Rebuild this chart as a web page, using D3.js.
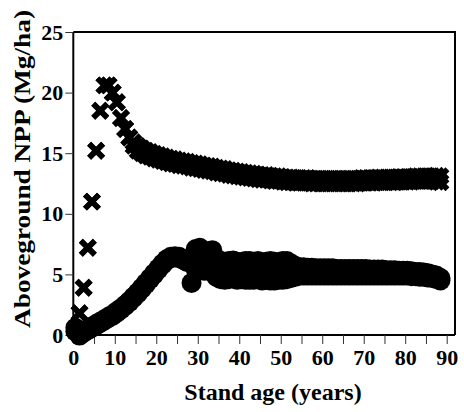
<!DOCTYPE html>
<html>
<head>
<meta charset="utf-8">
<script src="https://cdn.jsdelivr.net/npm/d3@7"></script>
<style>
    body { margin:0; background:#fff; }
    svg text { font-family:'Liberation Serif','Times New Roman',serif; font-weight:bold; fill:#000; }
    .axis path { stroke:#000; stroke-width:2; }
    .axis line { stroke:#333; stroke-width:1; }
</style>
</head>
<body>
<script>
(function() {
    'use strict';

    // stand age of each point (years)
    var ages = [0.5,1.5,2.5,3.5,4.5,5.5,6.5,7.5,8.5,9.5,
        10.5,11.5,12.5,13.5,14.5,15.5,16.5,17.5,18.5,19.5,
        20.5,21.5,22.5,23.5,24.5,25.5,26.5,27.5,28.5,29.5,
        30.5,31.5,32.5,33.5,34.5,35.5,36.5,37.5,38.5,39.5,
        40.5,41.5,42.5,43.5,44.5,45.5,46.5,47.5,48.5,49.5,
        50.5,51.5,52.5,53.5,54.5,55.5,56.5,57.5,58.5,59.5,
        60.5,61.5,62.5,63.5,64.5,65.5,66.5,67.5,68.5,69.5,
        70.5,71.5,72.5,73.5,74.5,75.5,76.5,77.5,78.5,79.5,
        80.5,81.5,82.5,83.5,84.5,85.5,86.5,87.5,88.5];

    // crosses, upper and lower run (Mg/ha)
    var crossHi = [0.5,1.8,3.9,7.2,11.0,15.2,18.5,20.6,20.6,20.0,
        19.2,17.9,17.0,16.3,15.9,15.6,15.4,15.2,15.1,14.95,
        14.85,14.75,14.65,14.55,14.5,14.4,14.35,14.3,14.2,14.15,
        14.1,14.0,13.95,13.9,13.8,13.75,13.7,13.6,13.55,13.5,
        13.45,13.4,13.35,13.3,13.25,13.2,13.2,13.15,13.1,13.1,
        13.05,13.0,13.0,12.95,12.95,12.95,12.95,12.9,12.9,12.9,
        12.9,12.9,12.9,12.9,12.9,12.9,12.9,12.9,12.9,12.95,
        12.95,12.95,12.95,13.0,13.0,13.0,13.0,13.0,13.05,13.05,
        13.05,13.05,13.1,13.1,13.1,13.1,13.1,13.15,13.1];

    var crossLo = [0.5,1.8,3.9,7.2,11.0,15.2,18.5,20.6,20.6,20.0,
        19.2,17.9,17.0,16.3,15.6,15.2,15.0,14.8,14.7,14.55,
        14.45,14.35,14.25,14.15,14.1,14.0,13.95,13.9,13.8,13.75,
        13.7,13.6,13.55,13.5,13.4,13.35,13.3,13.2,13.15,13.1,
        13.05,13.0,12.95,12.9,12.85,12.8,12.8,12.75,12.7,12.7,
        12.65,12.6,12.6,12.55,12.55,12.55,12.55,12.5,12.5,12.5,
        12.5,12.5,12.5,12.5,12.5,12.5,12.5,12.5,12.5,12.55,
        12.55,12.55,12.55,12.6,12.6,12.6,12.6,12.6,12.65,12.65,
        12.65,12.65,12.7,12.7,12.7,12.7,12.7,12.65,12.6];

    // circles, upper and lower run (Mg/ha)
    var circleHi = [0.6,0.1,0.3,0.5,0.7,0.9,1.1,1.3,1.5,1.7,
        1.95,2.2,2.5,2.8,3.15,3.5,3.9,4.3,4.7,5.1,
        5.5,5.9,6.25,6.45,6.5,6.45,6.3,6.15,6.0,7.1,
        7.2,6.7,6.9,7.0,6.3,6.1,6.0,6.1,6.15,6.05,
        6.0,6.1,6.1,6.0,6.1,6.0,6.05,6.1,6.05,6.0,
        6.1,6.1,5.9,5.7,5.6,5.6,5.55,5.55,5.5,5.5,
        5.5,5.5,5.5,5.45,5.45,5.45,5.45,5.45,5.45,5.45,
        5.45,5.4,5.4,5.4,5.4,5.35,5.35,5.35,5.3,5.3,
        5.3,5.25,5.2,5.2,5.15,5.1,5.0,4.9,4.7];

    var circleLo = [0.3,-0.05,0.2,0.4,0.6,0.8,1.0,1.2,1.4,1.6,
        1.85,2.1,2.4,2.7,3.05,3.4,3.8,4.2,4.6,5.0,
        5.4,5.8,6.15,6.35,6.4,6.35,6.2,6.0,4.3,5.4,
        5.4,5.3,5.3,5.4,4.8,4.6,4.55,4.6,4.7,4.55,
        4.6,4.55,4.55,4.55,4.6,4.5,4.55,4.5,4.5,4.55,
        4.55,4.6,4.7,4.8,4.9,4.9,4.9,4.9,4.9,4.9,
        4.9,4.9,4.9,4.9,4.9,4.9,4.9,4.9,4.9,4.9,
        4.9,4.9,4.9,4.9,4.9,4.9,4.9,4.9,4.9,4.9,
        4.9,4.85,4.85,4.8,4.8,4.75,4.7,4.6,4.5];

    var xTicks = [0,5,10,15,20,25,30,35,40,45,50,55,60,65,70,75,80,85,90],
        yTicks = [0,5,10,15,20,25];

    var W = 464, H = 412,
        L = 73.3, R = 455, T = 32, B = 335;

    var svg = d3.select('body').append('svg')
        .attr('width', W)
        .attr('height', H);

    var x = d3.scaleLinear().domain([0, 90]).range([L, 446.7]),
        y = d3.scaleLinear().domain([0, 25]).range([B, T]);

    // frame on top and right
    svg.append('path')
        .attr('d', 'M'+ L +' '+ T +' H'+ R +' V'+ B)
        .attr('fill', 'none')
        .attr('stroke', '#000')
        .attr('stroke-width', 2);

    svg.append('g')
        .attr('class', 'axis')
        .attr('transform', 'translate(0,'+ B +')')
        .call(d3.axisBottom(x)
            .tickValues(xTicks)
            .tickSizeOuter(0)
            .tickSize(9)
            .tickPadding(5)
            .tickFormat(function(d) { return d % 10 === 0 ? d : ''; }))
        .call(function(g) {
            g.select('.domain').attr('d', 'M'+ L +',0H'+ R);
            g.selectAll('text').style('font-size', '22px');
        });

    svg.append('g')
        .attr('class', 'axis')
        .attr('transform', 'translate('+ L +',0)')
        .call(d3.axisLeft(y)
            .tickValues(yTicks)
            .tickSizeOuter(0)
            .tickSize(8)
            .tickPadding(2))
        .call(function(g) {
            g.select('.domain').attr('d', 'M0,'+ T +'V'+ B);
            g.selectAll('text').style('font-size', '22px');
        });

    function pts(vals) {
        return vals.map(function(v, i) { return [ages[i], v]; });
    }

    var cross = 'M-7,-7L7,7M7,-7L-7,7';

    svg.append('g').selectAll('path')
        .data(pts(crossHi).concat(pts(crossLo))).enter()
            .append('path')
                .attr('d', cross)
                .attr('transform', function(d) { return 'translate('+ [x(d[0]), y(d[1])] +')'; })
                .attr('stroke', '#000')
                .attr('stroke-width', 5.5)
                .attr('fill', 'none');

    svg.append('g').selectAll('circle')
        .data(pts(circleHi).concat(pts(circleLo))).enter()
            .append('circle')
                .attr('cx', function(d) { return x(d[0]); })
                .attr('cy', function(d) { return y(d[1]); })
                .attr('r', 10)
                .attr('fill', '#000');

    svg.append('text')
        .attr('x', 273)
        .attr('y', 400)
        .attr('text-anchor', 'middle')
        .style('font-size', '24px')
        .text('Stand age (years)');

    svg.append('text')
        .attr('transform', 'translate(30,169) rotate(-90)')
        .attr('text-anchor', 'middle')
        .attr('textLength', 318)
        .attr('lengthAdjust', 'spacingAndGlyphs')
        .style('font-size', '24px')
        .text('Aboveground NPP (Mg/ha)');
})();
</script>
</body>
</html>
